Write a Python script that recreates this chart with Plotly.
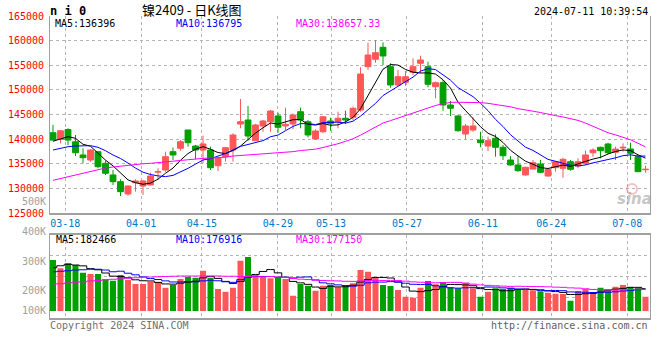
import plotly.graph_objects as go

# ---------------- data ----------------
trade_dates = (
    ["03-14", "03-15", "03-18", "03-19", "03-20", "03-21", "03-22", "03-25", "03-26", "03-27", "03-28", "03-29"]
    + ["04-01", "04-02", "04-03", "04-08", "04-09", "04-10", "04-11", "04-12", "04-15", "04-16", "04-17", "04-18",
       "04-19", "04-22", "04-23", "04-24", "04-25", "04-26", "04-29", "04-30"]
    + ["05-06", "05-07", "05-08", "05-09", "05-10", "05-13", "05-14", "05-15", "05-16", "05-17", "05-20", "05-21",
       "05-22", "05-23", "05-24", "05-27", "05-28", "05-29", "05-30", "05-31"]
    + ["06-03", "06-04", "06-05", "06-06", "06-07", "06-11", "06-12", "06-13", "06-14", "06-17", "06-18", "06-19",
       "06-20", "06-21", "06-24", "06-25", "06-26", "06-27", "06-28"]
    + ["07-01", "07-02", "07-03", "07-04", "07-05", "07-08", "07-09", "07-10", "07-11"]
)
tick_dates = ["03-18", "04-01", "04-15", "04-29", "05-13", "05-27", "06-11", "06-24", "07-08"]

opens = [141300, 139950, 141950, 139470, 136780, 135760, 137450, 135090, 132720, 131360,
         128860, 131150, 130480, 130690, 133300, 133730, 137450, 138140, 141850, 138600,
         137790, 137790, 134600, 136430, 137790, 143070, 143880, 139680, 142670, 143540,
         144700, 142670, 143070, 145570, 143540, 140030, 141500, 143680, 143540, 144230,
         144430, 145910, 154710, 156210, 158650, 154710, 150990, 151540, 153570, 155400,
         154710, 150650, 151460, 146930, 144700, 141040, 141850, 139820, 138600, 140170,
         138340, 135760, 134750, 132720, 133930, 134950, 132510, 134200, 134080, 135420,
         134540, 135090, 137240, 138340, 139010, 137320, 138200, 138000, 136430, 133790]
highs = [142900, 141800, 142200, 140840, 138140, 137930, 137590, 135620, 133730, 131840,
         130620, 131840, 131700, 133180, 134080, 137450, 138260, 139820, 141900, 138810,
         140700, 138460, 136300, 138400, 141180, 148150, 146730, 143100, 143880, 145910,
         145370, 146380, 145240, 146380, 143880, 142000, 144700, 144350, 145570, 145770,
         146600, 154580, 159580, 160130, 159660, 155400, 154040, 153830, 156410, 156940,
         155720, 151700, 152000, 147740, 144900, 143070, 144430, 141500, 140490, 140980,
         138810, 136570, 136570, 134400, 135760, 135760, 134100, 135600, 136230, 135760,
         136100, 137650, 138140, 138460, 139270, 138460, 139150, 139270, 136780, 134600]
lows = [139700, 139150, 138800, 136570, 135090, 135420, 134080, 132720, 130690, 128450,
        128510, 129330, 128650, 130600, 131700, 133390, 135760, 137650, 138460, 135900,
        135090, 133730, 133530, 135420, 135420, 142200, 139680, 139600, 141500, 141500,
        141300, 141850, 142000, 142200, 140370, 139900, 141180, 141710, 142200, 143070,
        143900, 145570, 154040, 155520, 155050, 150440, 150800, 150850, 153020, 153370,
        150520, 148290, 145770, 144700, 141500, 139960, 141500, 138340, 137590, 136430,
        135760, 134600, 133390, 132600, 133850, 133100, 132370, 133390, 132170, 133590,
        134080, 134750, 136430, 136100, 136980, 135760, 137450, 135760, 133300, 133180]
closes = [139800, 141700, 139800, 137240, 136230, 137790, 134400, 133060, 131360, 129330,
          130480, 131500, 131500, 132510, 133400, 136430, 136780, 139480, 139270, 137790,
          139010, 134200, 136100, 138260, 140840, 143540, 140630, 142870, 143680, 145710,
          142400, 143010, 144900, 143880, 140840, 141650, 144550, 143210, 144230, 143880,
          146260, 153220, 157080, 157550, 156880, 150990, 152680, 152680, 154710, 156070,
          151130, 151460, 146930, 146260, 141710, 142670, 142670, 139270, 139680, 138340,
          136630, 134750, 133590, 134280, 135210, 133260, 133870, 135420, 135900, 133870,
          135420, 136780, 137790, 137650, 137240, 137990, 138340, 137120, 133390, 133870]
volumes = [304000, 271000, 291000, 284000, 253000, 248000, 248000, 227000, 221000, 244000,
           224000, 208000, 208000, 217000, 215000, 193000, 204000, 228000, 237000, 233000,
           261000, 233000, 188000, 177000, 193000, 301000, 316000, 244000, 237000, 231000,
           235000, 228000, 161000, 208000, 201000, 181000, 201000, 204000, 195000, 204000,
           211000, 264000, 257000, 235000, 204000, 200000, 184000, 157000, 153000, 193000,
           220000, 207000, 215000, 195000, 191000, 213000, 191000, 157000, 177000, 191000,
           188000, 193000, 184000, 184000, 183000, 179000, 173000, 169000, 168000, 141000,
           180000, 188000, 175000, 193000, 184000, 197000, 204000, 196000, 192000, 157000]

ma5_head = [139560, 140090, 140500, 140170]
ma10_head = [137790, 138140, 138460, 138600, 138600, 138670, 138340, 137650, 136776]
ma30_head = [131640, 132000, 132310, 132800, 133060, 133530, 133830, 134140, 134340, 134540,
             134680, 134850, 135000, 135090, 135250, 135420, 135560, 135700, 135860, 136030,
             136100, 136170, 136230, 136330, 136570, 136680, 136780, 136880, 136980]
vma5_head = [273000, 281000, 287000, 284000]
vma10_head = [257000, 259000, 261000, 264000, 265000, 267000, 267000, 264000, 257000]
vma30_head = [208000, 209000, 212000, 215000, 217000, 220000, 222000, 225000, 227000, 229000,
              231000, 233000, 235000, 236000, 237000, 238000, 239000, 240000, 240000, 240000,
              240000, 240000, 240000, 239000, 239000, 238000, 238000, 237000, 237000]

ma_labels = ["MA5:136396", "MA10:136795", "MA30:138657.33"]
vma_labels = ["MA5:182466", "MA10:176916", "MA30:177150"]
price_ticks = [125000, 130000, 135000, 140000, 145000, 150000, 155000, 160000, 165000]
vol_tick_text = ["400K", "300K", "200K", "100K"]


def sma(vals, n, head):
    out = list(head)
    for i in range(len(head), len(vals)):
        out.append(sum(vals[i - n + 1:i + 1]) / n)
    return out


ma5 = sma(closes, 5, ma5_head)
ma10 = sma(closes, 10, ma10_head)
ma30 = sma(closes, 30, ma30_head)
vma5 = sma(volumes, 5, vma5_head)
vma10 = sma(volumes, 10, vma10_head)
vma30 = sma(volumes, 30, vma30_head)

# ---------------- style ----------------
RED = "#FF5757"
GREEN = "#00A000"
GRID = "#B4B4B4"
FRAME = "#A0A0A0"
MONO = "DejaVu Sans Mono"
VOL_BASE = 100000
X0, X1 = -0.4, 79.6
n = len(closes)
idx = list(range(n))
tick_idx = [trade_dates.index(d) for d in tick_dates]
tickvals = [X0 + k * (X1 - X0) / (n - 1) for k in tick_idx]

VR0, VR1 = 72000, 404000
vol_grid = [VR0 + (VR1 - VR0) * k / 4 for k in (1, 2, 3)]

L, R, T, B = 50, 10, 16, 42
W, H = 660, 360
PH = H - T - B


def PX(x):
    return (x - L) / (W - L - R)


def PY(y):
    return (H - B - y) / PH


fig = go.Figure()

fig.add_trace(go.Candlestick(
    x=idx, open=opens, high=highs, low=lows, close=closes,
    increasing=dict(line=dict(color=RED, width=1), fillcolor=RED),
    decreasing=dict(line=dict(color=GREEN, width=1), fillcolor=GREEN),
    whiskerwidth=0, xaxis="x", yaxis="y", showlegend=False, hoverinfo="skip"))

for vals, col in [(ma5, "#000000"), (ma10, "#0000FF"), (ma30, "#FF00FF")]:
    fig.add_trace(go.Scatter(x=idx, y=vals, mode="lines", line=dict(color=col, width=1),
                             xaxis="x", yaxis="y", showlegend=False, hoverinfo="skip"))

bar_colors = [RED if c >= o else GREEN for o, c in zip(opens, closes)]
fig.add_trace(go.Bar(x=idx, y=[v - VOL_BASE for v in volumes], base=VOL_BASE,
                     marker=dict(color=bar_colors, line=dict(width=0)), width=0.8,
                     xaxis="x2", yaxis="y2", showlegend=False, hoverinfo="skip"))

for vals, col in [(vma5, "#000000"), (vma10, "#0000FF"), (vma30, "#FF00FF")]:
    fig.add_trace(go.Scatter(x=idx, y=vals, mode="lines", line=dict(color=col, width=1, shape="hvh"),
                             xaxis="x2", yaxis="y2", showlegend=False, hoverinfo="skip"))

main_dom = [PY(213), 1]
vol_dom = [0, PY(235)]

fig.update_layout(
    template="none",
    width=W, height=H, autosize=False,
    margin=dict(l=L, r=R, t=T, b=B, pad=0),
    paper_bgcolor="white", plot_bgcolor="white",
    boxgap=0.22, boxgroupgap=0,
    bargap=0.2,
    xaxis=dict(domain=[0, 1], range=[X0, X1], anchor="y", tickmode="array", automargin=False,
               tickvals=tickvals, ticktext=tick_dates, ticks="", showgrid=True,
               gridcolor=GRID, griddash="dot", gridwidth=1, showline=True,
               linecolor=FRAME, linewidth=2, zeroline=False,
               tickfont=dict(family=MONO, size=10, color="#0078C8"),
               rangeslider=dict(visible=False), fixedrange=True),
    xaxis2=dict(domain=[0, 1], range=[X0, X1], anchor="y2", matches="x", tickmode="array",
                automargin=False,
                tickvals=tickvals, showticklabels=False, ticks="", showgrid=True,
                gridcolor=GRID, griddash="dot", gridwidth=1, showline=True, mirror=True,
                linecolor=FRAME, linewidth=2, zeroline=False),
    yaxis=dict(domain=main_dom, range=[125000, 165000], tickmode="array", automargin=False,
               tickvals=price_ticks, ticktext=[str(t) for t in price_ticks],
               showgrid=True, gridcolor=GRID, griddash="dot", gridwidth=1,
               showline=True, mirror=True, linecolor=FRAME, linewidth=1, zeroline=False,
               ticks="outside", ticklen=3, tickcolor="rgba(0,0,0,0)",
               tickfont=dict(family=MONO, size=10, color="#FF0000")),
    yaxis2=dict(domain=vol_dom, range=[VR0, VR1], tickmode="array", tickvals=vol_grid,
                automargin=False,
                showticklabels=False, showgrid=True, gridcolor=GRID, griddash="dot",
                gridwidth=1, showline=True, mirror=True, linecolor=FRAME, linewidth=1,
                zeroline=False, ticks=""),
)


def note(text, x, y, color, size=10, xanchor="left", family=MONO, weight="normal", style="normal"):
    return dict(text=text, x=PX(x), y=PY(y), xref="paper", yref="paper", xanchor=xanchor,
                yanchor="middle", showarrow=False, borderpad=0,
                font=dict(family=family, size=size, color=color, weight=weight, style=style))


anns = []
anns.append(note("n i 0", 49, 11, "#000000", size=12, weight="bold"))
anns.append(note("镍2409 - 日K线图", 192, 10, "#000000", size=13, xanchor="center",
                 family="Noto Sans CJK SC"))
anns.append(note("2024-07-11 10:39:54", 649, 12, "#000000", xanchor="right"))
for txt, x, col in zip(ma_labels, [54, 175, 295], ["#000000", "#0000FF", "#FF00FF"]):
    anns.append(note(txt, x, 23, col))
for txt, x, col in zip(vma_labels, [55, 175, 295], ["#000000", "#0000FF", "#FF00FF"]):
    anns.append(note(txt, x, 239, col))
anns.append(note("500K", 47, 201, "#A0A0A0", xanchor="right"))
for txt, y in zip(vol_tick_text, [231, 261, 290, 310]):
    anns.append(note(txt, 47, y, "#A0A0A0", xanchor="right"))
anns.append(note("Copyright 2024 SINA.COM", 49, 325, "#707070"))
anns.append(note("http://finance.sina.com.cn", 649, 325, "#606060", xanchor="right"))
anns.append(note("sina", 634, 199, "rgba(150,150,150,0.55)", size=15, xanchor="center",
                 family="DejaVu Sans", weight="bold", style="italic"))
fig.update_layout(annotations=anns)

fig.add_shape(type="circle", xref="paper", yref="paper",
              x0=PX(627), x1=PX(637), y0=PY(194), y1=PY(184),
              line=dict(color="rgba(235,120,120,0.45)", width=2))

fig.write_html("out.html", config={"displayModeBar": False, "staticPlot": True},
               post_script="document.body.style.margin='0px';")
